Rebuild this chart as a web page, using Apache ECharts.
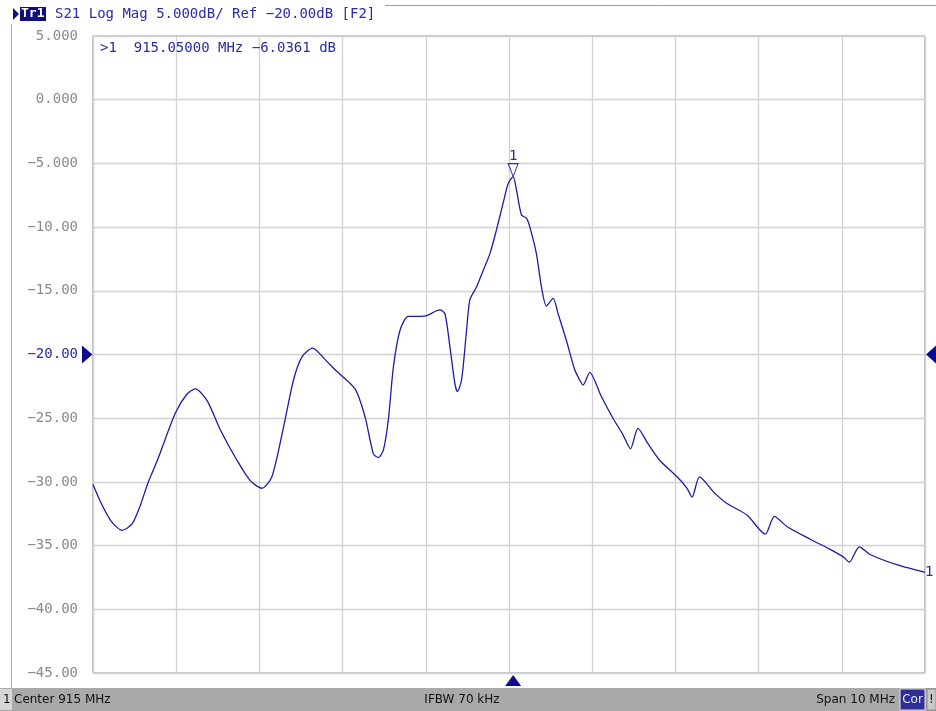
<!DOCTYPE html>
<html>
<head>
<meta charset="utf-8">
<script src="https://cdn.jsdelivr.net/npm/echarts@6/dist/echarts.min.js"></script>
<style>
  html, body { margin: 0; padding: 0; background: #fff; }
  #chart { width: 936px; height: 711px; }
</style>
</head>
<body>
<div id="chart"></div>
<script>
// trace S21, frequency in MHz, magnitude in dB
const freqs = [
  910.00, 910.10, 910.22, 910.35, 910.47, 910.56, 910.66, 910.78, 910.99, 911.13,
  911.23, 911.37, 911.53, 911.73, 911.89, 912.03, 912.15, 912.29, 912.41, 912.51,
  912.64, 912.79, 912.91, 913.15, 913.27, 913.37, 913.43, 913.49, 913.55, 913.61,
  913.69, 913.79, 913.95, 914.01, 914.17, 914.23, 914.29, 914.35, 914.38, 914.43,
  914.49, 914.53, 914.61, 914.69, 914.77, 914.85, 914.93, 914.99, 915.05, 915.09,
  915.15, 915.21, 915.25, 915.33, 915.39, 915.45, 915.53, 915.59, 915.69, 915.79,
  915.85, 915.89, 915.97, 916.11, 916.25, 916.37, 916.46, 916.55, 916.67, 916.81,
  917.02, 917.14, 917.20, 917.29, 917.46, 917.62, 917.86, 918.08, 918.19, 918.34,
  918.62, 918.86, 919.02, 919.09, 919.21, 919.34, 919.66, 920.00
];
const magDb = [
  -30.2, -31.7, -33.1, -33.8, -33.3, -32.0, -30.1, -28.2, -24.6, -23.1,
  -22.7, -23.6, -25.9, -28.3, -29.9, -30.5, -29.6, -25.7, -22.0, -20.2,
  -19.5, -20.4, -21.2, -22.7, -24.9, -27.8, -28.1, -27.5, -25.1, -21.0,
  -18.1, -17.0, -17.0, -16.95, -16.5, -16.8, -19.4, -22.3, -22.9, -22.0,
  -18.1, -15.7, -14.7, -13.4, -12.1, -10.2, -8.1, -6.6, -6.04, -7.1,
  -9.05, -9.3, -9.98, -12.1, -14.7, -16.2, -15.6, -16.8, -18.9, -21.2,
  -22.0, -22.4, -21.4, -23.3, -25.0, -26.3, -27.4, -25.8, -27.0, -28.3,
  -29.6, -30.5, -31.2, -29.6, -30.8, -31.7, -32.6, -34.1, -32.7, -33.5,
  -34.5, -35.3, -35.9, -36.3, -35.1, -35.7, -36.5, -37.1
];
const yTicks = [5, 0, -5, -10, -15, -20, -25, -30, -35, -40, -45];
const refLevel = -20;
const marker = { freq: 915.05, db: -6.0361 };

const traceColor = '#1c1ca6';
const textBlue = '#2c2ca8';
const mono = '"DejaVu Sans Mono", monospace';

const fmtTick = (v) => {
  const s = Math.abs(v) < 10 ? Math.abs(v).toFixed(3) : Math.abs(v).toFixed(2);
  return (v < 0 ? '\u2212' : '') + s;
};

const chart = echarts.init(document.getElementById('chart'));

const option = {
  animation: false,
  backgroundColor: '#fff',
  grid: {
    left: 93, top: 36, width: 832, height: 637,
    show: true, borderColor: '#8c8c8c', borderWidth: 1
  },
  xAxis: {
    type: 'value', min: 910, max: 920, interval: 1,
    axisLine: { show: false }, axisTick: { show: false }, axisLabel: { show: false },
    splitLine: { lineStyle: { color: '#d2d2d2', width: 1.3 } }
  },
  yAxis: {
    type: 'value', min: -45, max: 5, interval: 5,
    axisLine: { show: false }, axisTick: { show: false },
    splitLine: { lineStyle: { color: '#d2d2d2', width: 1.3 } },
    axisLabel: {
      margin: 15,
      fontFamily: mono, fontSize: 14, color: '#8a8a8a',
      formatter: (v) => yTicks.includes(v)
        ? (v === refLevel ? '{r|' + fmtTick(v) + '}' : fmtTick(v)) : '',
      rich: { r: { fontFamily: mono, fontSize: 14, color: textBlue } }
    }
  },
  series: [{
    type: 'line',
    data: freqs.map((f, i) => [f, magDb[i]]),
    showSymbol: false,
    smooth: 0.25,
    lineStyle: { color: traceColor, width: 1.3 },
    markPoint: {
      silent: true,
      data: [
        {
          coord: [marker.freq, marker.db],
          symbol: 'path://M0,0 L10,0 L5,13 Z',
          symbolSize: [10, 13],
          symbolOffset: [0, -6.5],
          itemStyle: { color: 'rgba(0,0,0,0)', borderColor: textBlue, borderWidth: 1 },
          label: {
            show: true, formatter: '1', position: 'top', distance: 0,
            fontFamily: mono, fontSize: 14, color: textBlue
          }
        },
        {
          coord: [freqs[freqs.length - 1], magDb[magDb.length - 1]],
          symbolSize: 0,
          label: {
            show: true, formatter: '1', position: 'right', distance: 0,
            fontFamily: mono, fontSize: 14, color: textBlue
          }
        }
      ]
    }
  }]
};
chart.setOption(option);

// instrument decorations placed from the axis scales
const refY = chart.convertToPixel({ gridIndex: 0 }, [910, refLevel])[1];
const mkX = chart.convertToPixel({ gridIndex: 0 }, [marker.freq, refLevel])[0];

chart.setOption({
  graphic: [
    // left frame line
    { type: 'line', shape: { x1: 11.5, y1: 24, x2: 11.5, y2: 688 }, style: { stroke: '#a8a8a8', lineWidth: 1 } },
    { type: 'line', shape: { x1: 385, y1: 5.5, x2: 936, y2: 5.5 }, style: { stroke: '#9a9a9a', lineWidth: 1 } },
    // header
    { type: 'polygon', shape: { points: [[13, 8], [19, 14], [13, 20]] }, style: { fill: '#10107a' } },
    { type: 'rect', shape: { x: 20, y: 7, width: 26, height: 14 }, style: { fill: '#10107a' } },
    { type: 'text', x: 21, y: 14, style: { text: 'Tr1', fill: '#fff', font: 'bold 13px ' + mono, verticalAlign: 'middle' } },
    { type: 'text', x: 55, y: 14, style: { text: 'S21 Log Mag 5.000dB/ Ref \u221220.00dB [F2]', fill: textBlue, font: '14px ' + mono, verticalAlign: 'middle' } },
    // marker readout
    { type: 'text', x: 100, y: 48, style: { text: '>1  915.05000 MHz \u22126.0361 dB', fill: textBlue, font: '14px ' + mono, verticalAlign: 'middle' } },
    // reference level arrows
    { type: 'polygon', shape: { points: [[82, refY - 9], [92.5, refY], [82, refY + 9]] }, style: { fill: '#0c0c8c' } },
    { type: 'polygon', shape: { points: [[936, refY - 9], [926, refY], [936, refY + 9]] }, style: { fill: '#0c0c8c' } },
    // stimulus marker arrow
    { type: 'polygon', shape: { points: [[mkX - 8, 686], [mkX, 675], [mkX + 8, 686]] }, style: { fill: '#0c0c8c' } },
    // status bar
    { type: 'rect', shape: { x: 0, y: 688, width: 936, height: 23 }, style: { fill: '#a9a9a9' } },
    { type: 'rect', shape: { x: 0, y: 689, width: 12, height: 21 }, style: { fill: '#d6d6d6' } },
    { type: 'text', x: 3, y: 699.5, style: { text: '1', fill: '#111', font: '12px "DejaVu Sans"', verticalAlign: 'middle' } },
    { type: 'text', x: 14, y: 699.5, style: { text: 'Center 915 MHz', fill: '#111', font: '12px "DejaVu Sans"', verticalAlign: 'middle' } },
    { type: 'text', x: 462, y: 699.5, style: { text: 'IFBW 70 kHz', fill: '#111', font: '12px "DejaVu Sans"', align: 'center', verticalAlign: 'middle' } },
    { type: 'text', x: 895, y: 699.5, style: { text: 'Span 10 MHz', fill: '#111', font: '12px "DejaVu Sans"', align: 'right', verticalAlign: 'middle' } },
    { type: 'rect', shape: { x: 900, y: 689, width: 25, height: 21 }, style: { fill: '#2e2e96', stroke: '#e0e0e0', lineWidth: 1 } },
    { type: 'text', x: 912.5, y: 699.5, style: { text: 'Cor', fill: '#e8e8f8', font: '12px "DejaVu Sans"', align: 'center', verticalAlign: 'middle' } },
    { type: 'rect', shape: { x: 927, y: 689, width: 9, height: 21 }, style: { fill: '#c8c8c8', stroke: '#888', lineWidth: 1 } },
    { type: 'text', x: 931.5, y: 699.5, style: { text: '!', fill: '#111', font: '12px "DejaVu Sans"', align: 'center', verticalAlign: 'middle' } }
  ]
});

window.addEventListener('resize', () => chart.resize());
</script>
</body>
</html>
